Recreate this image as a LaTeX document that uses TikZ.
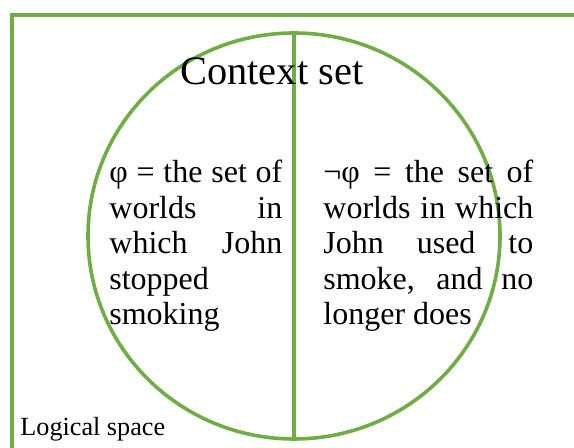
\documentclass[tikz,border=0pt]{standalone}
\usepackage{fontspec}
\setmainfont{Liberation Serif}
\usetikzlibrary{shapes.geometric}
\definecolor{setgreen}{HTML}{70AD47}
\tolerance=10000
\hyphenpenalty=10000
\begin{document}
\begin{tikzpicture}[x=0.5pt,y=-0.5pt,
    edge/.style={draw=setgreen,line width=1.8pt},
    cell/.style={anchor=base west,inner sep=0pt,align=justify,font=\fontsize{16}{17.75}\selectfont}]
    \useasboundingbox (0,0) rectangle (574,448);
    \draw[edge] (574,15) -- (12,15) -- (12,448);
    \node[edge,ellipse,minimum width=206pt,minimum height=203pt,inner sep=0pt,outer sep=0pt] (ctx) at (294,236) {};
    \draw[edge] (ctx.north) -- (ctx.south);
    \node[anchor=base west,inner sep=0pt,font=\fontsize{20.2}{24}\selectfont] (title) at (180,85) {Context set};
    \node[cell,text width=86.5pt] (phi) at (109,183)
        {φ = the set of\linebreak worlds in\linebreak which John\linebreak stopped\newline smoking};
    \node[cell,text width=105pt] (notphi) at (323,183)
        {¬φ = the set of\linebreak worlds in which\linebreak John used to\linebreak smoke, and no\linebreak longer does};
    \node[anchor=base west,inner sep=0pt,font=\fontsize{13.1}{15}\selectfont] (space) at (20,436) {Logical space};
\end{tikzpicture}
\end{document}
